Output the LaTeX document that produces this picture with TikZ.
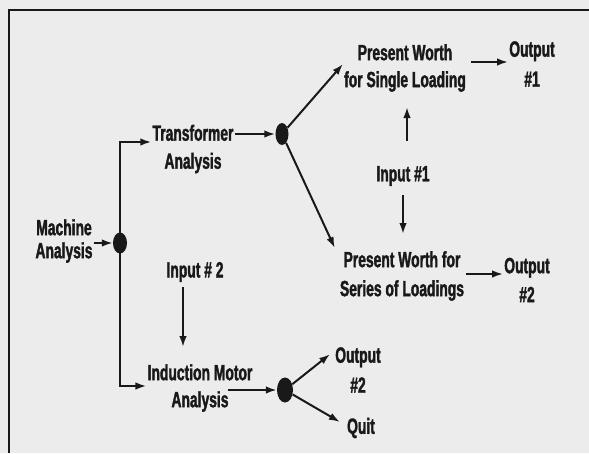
\documentclass[tikz,border=0pt]{standalone}
\usepackage{fontspec}
\newfontfamily\condfont{Liberation Sans}[FakeStretch=0.63,FakeBold=1.6]
\usetikzlibrary{arrows.meta,shapes.geometric,calc}
\definecolor{bg}{RGB}{236,236,236}
\definecolor{ink}{RGB}{25,25,25}
\tikzset{
  lbl/.style={font=\condfont\bfseries\fontsize{22}{28}\selectfont, align=center, inner sep=1pt, text=ink},
  lblm/.style={lbl, font=\condfont\bfseries\fontsize{22}{23}\selectfont},
  lblo/.style={lbl, font=\condfont\bfseries\fontsize{22}{30}\selectfont},
  dotnode/.style={ellipse, fill=ink, inner sep=0pt, minimum width=14pt, minimum height=22pt},
  arr/.style={-{Latex[length=11pt,width=7.5pt]}, line width=2pt, draw=ink},
  frame/.style={line width=2.6pt, draw=ink}
}
\begin{document}
\begin{tikzpicture}[x=1pt,y=-1pt]
\fill[bg] (0,0) rectangle (589,453);
\useasboundingbox (0,0) rectangle (589,453);
\draw[frame] (589,10) -- (9,10) -- (9,453);

% nodes
\node[lblm] (mach) at (64,241) {Machine\\Analysis};
\node[dotnode, minimum width=14pt, minimum height=21pt] (dot1) at (120,243) {};
\node[lbl] (trans) at (193,149) {Transformer\\Analysis};
\node[dotnode, minimum width=13pt, minimum height=22pt] (dot2) at (282,134) {};
\node[lbl, font=\condfont\bfseries\fontsize{22}{27}\selectfont] (psingle) at (405,68) {Present Worth\\for Single Loading};
\node[lblo] (out1) at (532,64) {Output\\\#1};
\node[lbl] (in1) at (403,176) {Input \#1};
\node[lbl, font=\condfont\bfseries\fontsize{22}{29}\selectfont] (pseries) at (402,276) {Present Worth for\\Series of Loadings};
\node[lbl, font=\condfont\bfseries\fontsize{22}{29}\selectfont] (out2a) at (527,280) {Output\\\#2};
\node[lbl] (in2) at (195,272) {Input \# 2};
\node[lbl, font=\condfont\bfseries\fontsize{22}{27}\selectfont] (ind) at (200,388) {Induction Motor\\Analysis};
\node[dotnode, minimum width=16pt, minimum height=25pt] (dot3) at (285,390) {};
\node[lblo] (out2b) at (358,370) {Output\\\#2};
\node[lbl] (quit) at (361,428) {Quit};

% connectors
\draw[arr] (mach.east |- dot1) -- (dot1);
\draw[arr] (dot1.center) |- ($(trans.west)+(0,-7)$);
\draw[arr] (dot1.center) |- ($(ind.west)+(0,-2)$);
\draw[arr] (trans.east |- dot2) -- (dot2);
\draw[arr] (dot2) -- ($(psingle.west)+(0,-4)$);
\draw[arr] (dot2) -- ($(pseries.north west)+(-4,-2)$);
\draw[arr] ($(psingle.east)+(4,-6)$) -- ($(psingle.east -| out1.west)+(0,-6)$);
\draw[arr] ($(pseries.east)+(1,-2)$) -- ($(pseries.east -| out2a.west)+(0,-2)$);
\draw[arr, shorten <=24pt, shorten >=14pt] ($(in1.north)+(4,0)$) -- ($(in1.north |- psingle.south)+(4,0)$);
\draw[arr, shorten <=8pt, shorten >=16pt] (in1.south) -- (in1.south |- pseries.north);
\draw[arr, shorten <=4pt, shorten >=16pt] ($(in2.south)+(-12,0)$) -- ($(in2.south |- ind.north)+(-12,0)$);
\draw[arr] ($(ind.east |- dot3)+(-26,0)$) -- (dot3);
\draw[arr] (dot3) -- ($(out2b.north west)+(-4,8)$);
\draw[arr] (dot3) -- ($(quit.west)+(-6,-6)$);
\end{tikzpicture}
\end{document}
